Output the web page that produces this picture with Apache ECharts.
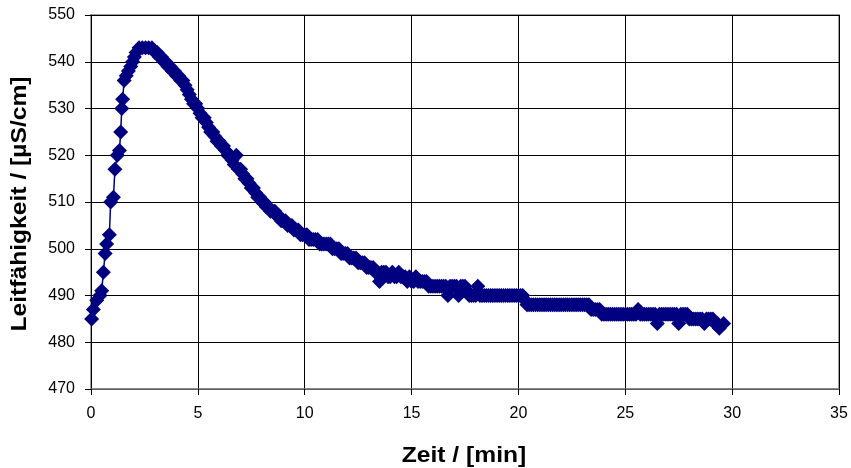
<!DOCTYPE html>
<html>
<head>
<meta charset="utf-8">
<script src="https://cdn.jsdelivr.net/npm/echarts@6/dist/echarts.min.js"></script>
<style>
  html, body { margin: 0; padding: 0; background: #ffffff; }
  #chart { width: 851px; height: 468px; }
</style>
</head>
<body>
<div id="chart"></div>
<script>
// Conductivity trace: time in minutes, conductivity in µS/cm.

// Initial rise after dosing
const riseTime  = [0.03, 0.11, 0.27, 0.42, 0.50, 0.58, 0.66, 0.73, 0.86, 0.92,
                   1.05, 1.12, 1.23, 1.33, 1.39, 1.44, 1.48, 1.55, 1.65, 1.75,
                   1.86, 1.95, 2.03, 2.11, 2.25, 2.40, 2.55, 2.70, 2.85];
const riseValue = [485, 487, 489, 490, 491, 495, 499, 501, 503, 510,
                   511, 517, 520, 521, 525, 530, 532, 536, 537, 538,
                   539, 540, 541, 542, 543, 543, 543, 543, 543];

// Decay after the peak
const decayTime = [
  3.0, 3.1, 3.2, 3.3, 3.4, 3.5, 3.6, 3.7, 3.8, 3.9,
  4.0, 4.1, 4.2, 4.3, 4.4, 4.5, 4.6, 4.7, 4.8, 4.9,
  5.0, 5.1, 5.2, 5.3, 5.4, 5.5, 5.6, 5.7, 5.8, 5.9,
  6.0, 6.1, 6.2, 6.3, 6.4, 6.5, 6.6, 6.7, 6.8, 6.9,
  7.0, 7.1, 7.2, 7.3, 7.4, 7.5, 7.6, 7.7, 7.8, 7.9,
  8.0, 8.1, 8.2, 8.3, 8.4, 8.5, 8.6, 8.7, 8.8, 8.9,
  9.0, 9.1, 9.2, 9.3, 9.4, 9.5, 9.6, 9.7, 9.8, 9.9,
  10.0, 10.1, 10.2, 10.3, 10.4, 10.5, 10.6, 10.7, 10.8, 10.9,
  11.0, 11.1, 11.2, 11.3, 11.4, 11.5, 11.6, 11.7, 11.8, 11.9,
  12.0, 12.1, 12.2, 12.3, 12.4, 12.5, 12.6, 12.7, 12.8, 12.9
];
const decayValue = [
  542, 542, 541, 541, 540, 540, 539, 539, 538, 538,
  537, 537, 536, 536, 535, 534, 533, 532, 531, 531,
  530, 529, 528, 528, 527, 526, 525, 525, 524, 523,
  523, 522, 522, 521, 520, 520, 519, 518, 520, 517,
  517, 516, 515, 515, 514, 513, 513, 512, 511, 511,
  510, 510, 509, 509, 508, 508, 508, 507, 507, 506,
  506, 506, 505, 505, 505, 504, 504, 504, 503, 503,
  503, 503, 502, 502, 502, 502, 502, 501, 501, 501,
  501, 501, 501, 500, 500, 500, 500, 499, 499, 499,
  499, 498, 498, 498, 498, 497, 497, 497, 497, 496
];

// Slow approach to the baseline
const tailTime = [
  13.0, 13.1, 13.2, 13.3, 13.4, 13.5, 13.6, 13.7, 13.8, 13.9,
  14.0, 14.1, 14.2, 14.3, 14.4, 14.5, 14.6, 14.7, 14.8, 14.9,
  15.0, 15.1, 15.2, 15.3, 15.4, 15.5, 15.6, 15.7, 15.8, 15.9,
  16.0, 16.1, 16.2, 16.3, 16.4, 16.5, 16.6, 16.7, 16.8, 16.9,
  17.0, 17.1, 17.2, 17.3, 17.4, 17.5, 17.6, 17.7, 17.8, 17.9,
  18.0, 18.1, 18.2, 18.3, 18.4, 18.5, 18.6, 18.7, 18.8, 18.9,
  19.0, 19.1, 19.2, 19.3, 19.4, 19.5, 19.6, 19.7, 19.8, 19.9,
  20.0, 20.1, 20.2, 20.3, 20.4, 20.5, 20.6, 20.7, 20.8, 20.9,
  21.0, 21.1, 21.2, 21.3, 21.4, 21.5, 21.6, 21.7, 21.8, 21.9,
  22.0, 22.1, 22.2, 22.3, 22.4, 22.5, 22.6, 22.7, 22.8, 22.9,
  23.0, 23.1, 23.2, 23.3, 23.4, 23.5, 23.6, 23.7, 23.8, 23.9,
  24.0, 24.1, 24.2, 24.3, 24.4, 24.5, 24.6, 24.7, 24.8, 24.9,
  25.0, 25.1, 25.2, 25.3, 25.4, 25.5, 25.6, 25.7, 25.8, 25.9,
  26.0, 26.1, 26.2, 26.3, 26.4, 26.5, 26.6, 26.7, 26.8, 26.9,
  27.0, 27.1, 27.2, 27.3, 27.4, 27.5, 27.6, 27.7, 27.8, 27.9,
  28.0, 28.1, 28.2, 28.3, 28.4, 28.5, 28.6, 28.7, 28.8, 28.9,
  29.0, 29.1, 29.2, 29.3, 29.4, 29.6
];
const tailValue = [
  496, 496, 496, 495, 495, 493, 495, 495, 495, 494,
  494, 495, 494, 494, 495, 494, 494, 494, 493, 494,
  493, 493, 494, 493, 493, 493, 493, 493, 492, 492,
  492, 492, 492, 492, 492, 492, 492, 490, 492, 492,
  492, 492, 490, 492, 492, 492, 491, 490, 490, 490,
  490, 492, 490, 490, 490, 490, 490, 490, 490, 490,
  490, 490, 490, 490, 490, 490, 490, 490, 490, 490,
  490, 490, 490, 489, 488, 488, 488, 488, 488, 488,
  488, 488, 488, 488, 488, 488, 488, 488, 488, 488,
  488, 488, 488, 488, 488, 488, 488, 488, 488, 488,
  488, 488, 488, 488, 487, 487, 487, 487, 487, 486,
  486, 486, 486, 486, 486, 486, 486, 486, 486, 486,
  486, 486, 486, 486, 486, 486, 487, 486, 486, 486,
  486, 486, 486, 486, 486, 484, 486, 486, 486, 486,
  486, 486, 486, 486, 486, 484, 486, 486, 486, 486,
  485, 485, 485, 485, 485, 485, 485, 484, 485, 485,
  485, 485, 484, 484, 483, 484
];

// Axis ranges
const xRange = { min: 0, max: 35, step: 5 };
const yRange = { min: 470, max: 550, step: 10 };

const xAxisTitle = 'Zeit / [min]';
const yAxisTitle = 'Leitfähigkeit / [µS/cm]';

const toPairs = (ts, vs) => ts.map((t, i) => [t, vs[i]]);
const seriesData = [].concat(
  toPairs(riseTime, riseValue),
  toPairs(decayTime, decayValue),
  toPairs(tailTime, tailValue)
);

const FONT = '"Liberation Sans", Arial, sans-serif';
const NAVY = '#000080';

// Axis titles are slightly wider than a plain font renders them
const TITLE_STRETCH = 1.12;

const chart = echarts.init(document.getElementById('chart'), null, { renderer: 'canvas' });

chart.setOption({
  animation: false,
  backgroundColor: '#ffffff',
  grid: {
    left: 91, right: 12, top: 15, bottom: 79,
    show: true,
    borderColor: '#808080',
    borderWidth: 1.5,
    backgroundColor: 'transparent'
  },
  xAxis: {
    type: 'value',
    min: xRange.min, max: xRange.max, interval: xRange.step,
    axisLine: { show: true, onZero: false, lineStyle: { color: '#808080', width: 1.5 } },
    axisTick: { show: true, inside: false, length: 6, lineStyle: { color: '#000', width: 1 } },
    axisLabel: { fontFamily: FONT, fontSize: 16, color: '#000', margin: 17 },
    splitLine: { show: true, lineStyle: { color: '#000', width: 1 } }
  },
  yAxis: {
    type: 'value',
    min: yRange.min, max: yRange.max, interval: yRange.step,
    axisLine: { show: true, onZero: false, lineStyle: { color: '#000', width: 1 } },
    axisTick: { show: true, inside: false, length: 6, lineStyle: { color: '#000', width: 1 } },
    axisLabel: { fontFamily: FONT, fontSize: 16, color: '#000', margin: 16 },
    splitLine: { show: true, lineStyle: { color: '#000', width: 1 } }
  },
  graphic: [
    {
      type: 'text',
      x: 464, y: 456,
      scaleX: TITLE_STRETCH,
      style: {
        text: xAxisTitle,
        font: 'bold 22px ' + FONT,
        fill: '#000',
        align: 'center',
        verticalAlign: 'middle'
      }
    },
    {
      type: 'text',
      x: 20, y: 204,
      rotation: Math.PI / 2,
      scaleX: TITLE_STRETCH,
      style: {
        text: yAxisTitle,
        font: 'bold 22px ' + FONT,
        fill: '#000',
        align: 'center',
        verticalAlign: 'middle'
      }
    }
  ],
  series: [{
    type: 'line',
    data: seriesData,
    symbol: 'diamond',
    symbolSize: 15,
    showSymbol: true,
    showAllSymbol: true,
    clip: false,
    itemStyle: { color: NAVY, borderWidth: 0 },
    lineStyle: { color: NAVY, width: 1.5 },
    emphasis: { disabled: true }
  }]
});
</script>
</body>
</html>
